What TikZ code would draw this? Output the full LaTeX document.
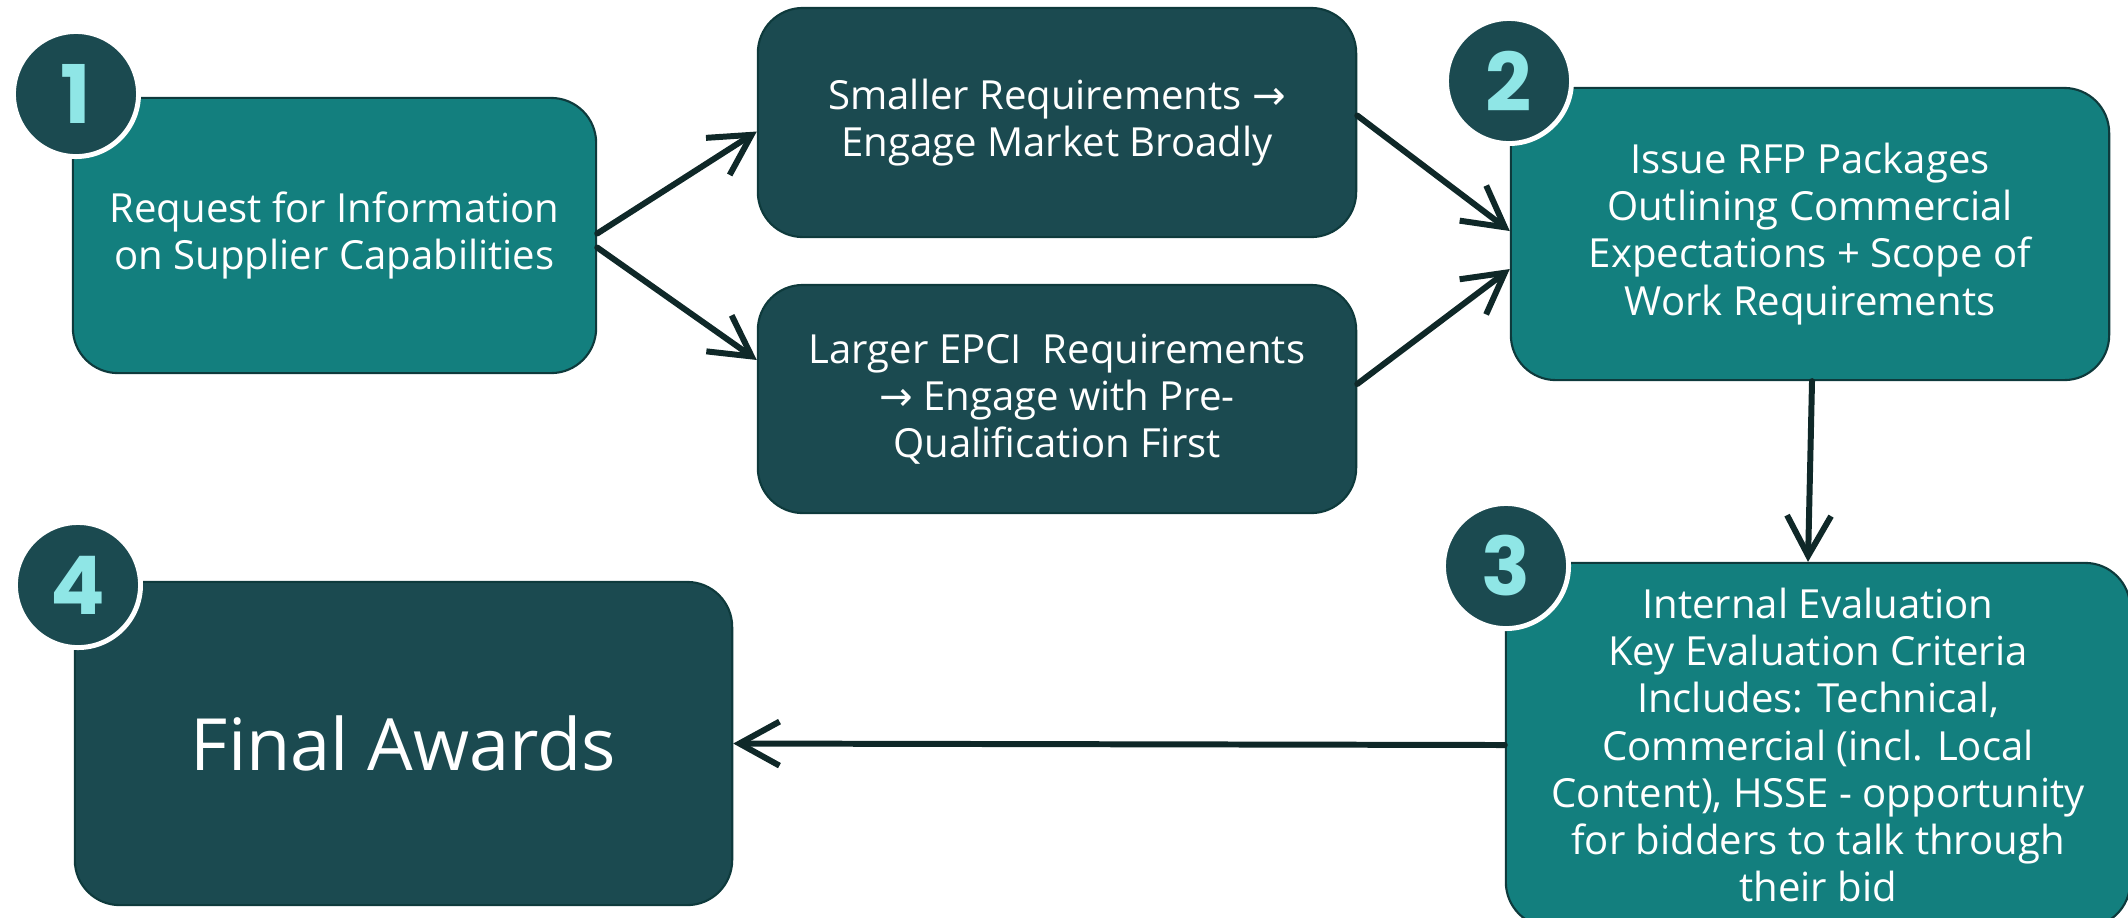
\documentclass[tikz,border=0pt]{standalone}
\usepackage{fontspec}
\setmainfont{Open Sans}
\newfontfamily\numfont{Poppins}
\newfontfamily\symfont{DejaVu Sans}
\usetikzlibrary{arrows.meta}
\definecolor{tealbox}{HTML}{137F7E}
\definecolor{darkbox}{HTML}{1B4A50}
\definecolor{boxline}{HTML}{0E3A3C}
\definecolor{arrowcol}{HTML}{0F2828}
\definecolor{numcol}{HTML}{8FE6E6}
\newcommand{\ra}{{\symfont\char"2192}}
\begin{document}
\begin{tikzpicture}[x=0.01cm, y=-0.01cm, line join=round, line cap=round,
		box/.style={draw=boxline, line width=0.6pt, rounded corners=0.45cm, text=white, align=center, inner sep=0pt, font=\fontsize{11.4pt}{13.4pt}\selectfont},
		lightbox/.style={box, fill=tealbox},
		darkbox/.style={box, fill=darkbox},
		badge/.style={circle, fill=darkbox, draw=white, line width=1.4pt, minimum size=1.25cm, inner sep=0pt, text=numcol, font=\numfont\bfseries\fontsize{23pt}{23pt}\selectfont},
		flow/.style={draw=arrowcol, line width=1.7pt, -{Straight Barb[length=0.4cm, width=0.44cm]}}]
	\useasboundingbox (0,0) rectangle (2128,917);
	\clip (0,0) rectangle (2128,917);
	% boxes
	\node[lightbox, minimum width=5.23cm, minimum height=2.75cm] (rfi) at (334.5,235.5) {Request for Information\\on Supplier Capabilities};
	\node[darkbox, minimum width=5.98cm, minimum height=2.29cm] (small) at (1057,122.5) {Smaller Requirements \ra\\Engage Market Broadly};
	\node[darkbox, minimum width=5.98cm, minimum height=2.28cm] (large) at (1057,399) {Larger EPCI\ \ Requirements\\\ra\ Engage with Pre-\\Qualification First};
	\node[lightbox, minimum width=5.98cm, minimum height=2.92cm] (rfp) at (1810,234) {Issue RFP Packages\\Outlining Commercial\\Expectations + Scope of\\Work Requirements};
	\node[lightbox, minimum width=6.24cm, minimum height=3.64cm] (eval) at (1818,745) {Internal Evaluation\\Key Evaluation Criteria\\Includes: Technical,\\Commercial (incl. Local\\Content), HSSE - opportunity\\for bidders to talk through\\their bid};
	\node[darkbox, minimum width=6.57cm, minimum height=3.23cm, font=\fontsize{20.5pt}{24pt}\selectfont] (award) at (403.5,743.5) {Final Awards};
	% step numbers
	\node[badge] (n1) at (76,94) {1};
	\node[badge] (n2) at (1509,81) {2};
	\node[badge] (n3) at (1506,566) {3};
	\node[badge] (n4) at (78,585) {4};
	% arrows
	\draw[flow] ([yshift=0.02cm]rfi.east) -- ([yshift=-0.09cm]small.west);
	\draw[flow] ([yshift=-0.12cm]rfi.east) -- ([yshift=0.39cm]large.west);
	\draw[flow] ([yshift=0.07cm]small.east) -- ([yshift=0.03cm]rfp.west);
	\draw[flow] ([yshift=0.15cm]large.east) -- ([yshift=-0.35cm]rfp.west);
	\draw[flow] ([xshift=0.02cm]rfp.south) -- ([xshift=-0.1cm]eval.north);
	\draw[flow] (eval.west) -- (award.east);
\end{tikzpicture}
\end{document}
